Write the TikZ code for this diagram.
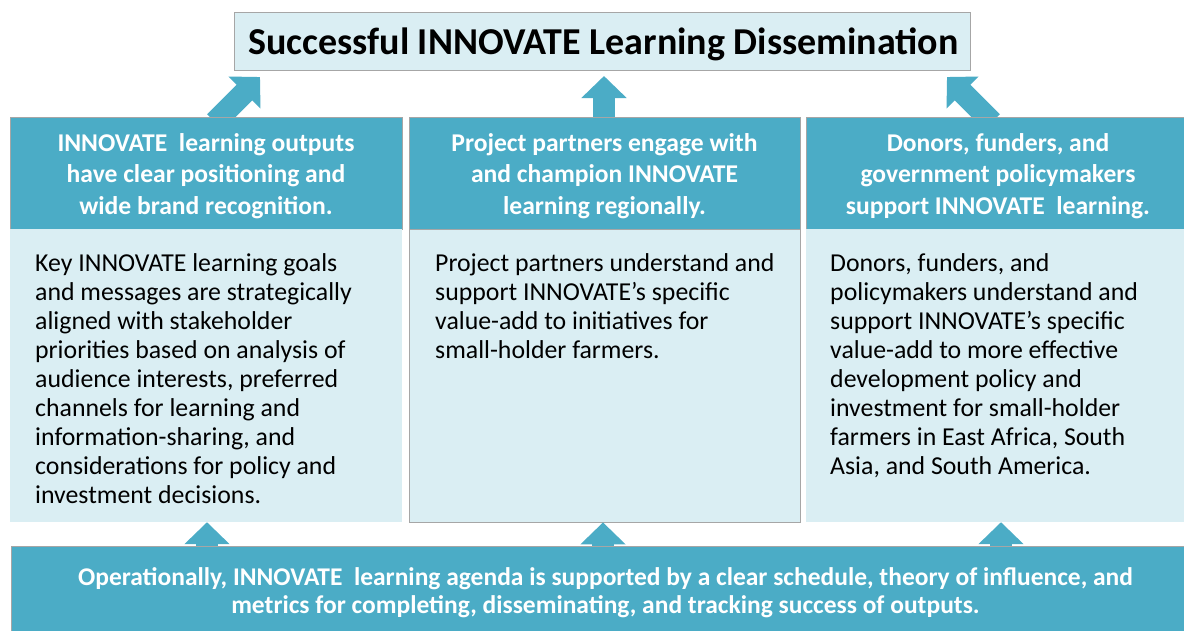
\documentclass[tikz,border=0pt]{standalone}
\usepackage{fontspec}
\setmainfont{Carlito}
\usetikzlibrary{arrows.meta}
\definecolor{teal0}{HTML}{4BACC6}
\definecolor{pale}{HTML}{DAEEF3}
\definecolor{edge}{HTML}{A6A6A6}
\tikzset{
  barrow/.style={draw=teal0, line width=22pt, -{Triangle[length=22pt,width=44pt]}},
  headbox/.style={rectangle, fill=teal0, draw=edge, line width=0.6pt, inner sep=0pt,
    minimum height=112pt, text=white, align=center,
    font=\fontsize{25.6}{31.5}\selectfont\bfseries},
  bodybox/.style={rectangle, fill=pale, inner sep=0pt, minimum height=293pt},
  bodytext/.style={anchor=north west, inner sep=0pt, align=left,
    font=\fontsize{25.8}{29}\selectfont},
}
\begin{document}
\begin{tikzpicture}[x=1pt,y=-1pt]
\useasboundingbox (0,0) rectangle (1184,630);
\fill[white] (0,0) rectangle (1184,630);

% ends of the rising arrows
\coordinate (tipL) at (260,77);
\coordinate (tailL) at (215,122);
\coordinate (tipR) at (947,77);
\coordinate (tailR) at (992,122);
\coordinate (tipC) at (604,76);
\coordinate (tailC) at (604,120);

\draw[barrow] (tailL) -- (tipL);
\draw[barrow] (tailR) -- (tipR);
\draw[barrow] (tailC) -- (tipC);

% title
\node[rectangle, fill=pale, draw=edge, line width=0.8pt, minimum width=736pt,
  minimum height=58pt, inner sep=0pt] (title) at (602,41) {};
\node[inner sep=0pt, font=\fontsize{38}{44}\selectfont\bfseries]
  (titletext) at (603.5,44) {Successful INNOVATE Learning Dissemination};

% column headers
\node[headbox, minimum width=392pt] (h1) at (206,173) {};
\node[headbox, minimum width=391pt] (h2) at (604.5,173) {};
\node[headbox, minimum width=384pt] (h3) at (998,173) {};
\node[headbox, draw=none, fill=none, minimum height=0pt] at (206,176)
  {INNOVATE\ \ learning outputs\\have clear positioning and\\wide brand recognition.};
\node[headbox, draw=none, fill=none, minimum height=0pt] at (604.5,176)
  {Project partners engage with\\and champion INNOVATE\\learning regionally.};
\node[headbox, draw=none, fill=none, minimum height=0pt] at (998,176)
  {Donors, funders, and\\government policymakers\\support INNOVATE\ \ learning.};

% column bodies
\node[bodybox, minimum width=392pt] (b1) at (206,375.5) {};
\node[bodybox, minimum width=391pt, draw=edge, line width=0.8pt] (b2) at (604.5,375.5) {};
\node[bodybox, minimum width=384pt] (b3) at (998,375.5) {};

\node[bodytext] (t1) at (35,253) {Key INNOVATE learning goals\\and messages are strategically\\aligned with stakeholder\\priorities based on analysis of\\audience interests, preferred\\channels for learning and\\information-sharing, and\\considerations for policy and\\investment decisions.};
\node[bodytext] (t2) at (435,253) {Project partners understand and\\support INNOVATE’s specific\\value-add to initiatives for\\small-holder farmers.};
\node[bodytext] (t3) at (830,253) {Donors, funders, and\\policymakers understand and\\support INNOVATE’s specific\\value-add to more effective\\development policy and\\investment for small-holder\\farmers in East Africa, South\\Asia, and South America.};

% arrows from the bottom bar up to the bodies
\coordinate (uL) at (207,547);
\coordinate (uC) at (603,547);
\coordinate (uR) at (1001,547);
\draw[barrow] (uL) -- (b1.south -| uL);
\draw[barrow] (uC) -- (b2.south -| uC);
\draw[barrow] (uR) -- (b3.south -| uR);

% bottom bar
\node[rectangle, fill=teal0, draw=edge, line width=0.8pt, minimum width=1179pt,
  minimum height=94pt, inner sep=0pt] (bar) at (600.5,593) {};
\node[inner sep=0pt, text=white, align=center,
  font=\fontsize{25.5}{28}\selectfont\bfseries] (bartext) at (605.5,593)
  {Operationally, INNOVATE\ \ learning agenda is supported by a clear schedule, theory of influence, and\\metrics for completing, disseminating, and tracking success of outputs.};
\end{tikzpicture}
\end{document}
